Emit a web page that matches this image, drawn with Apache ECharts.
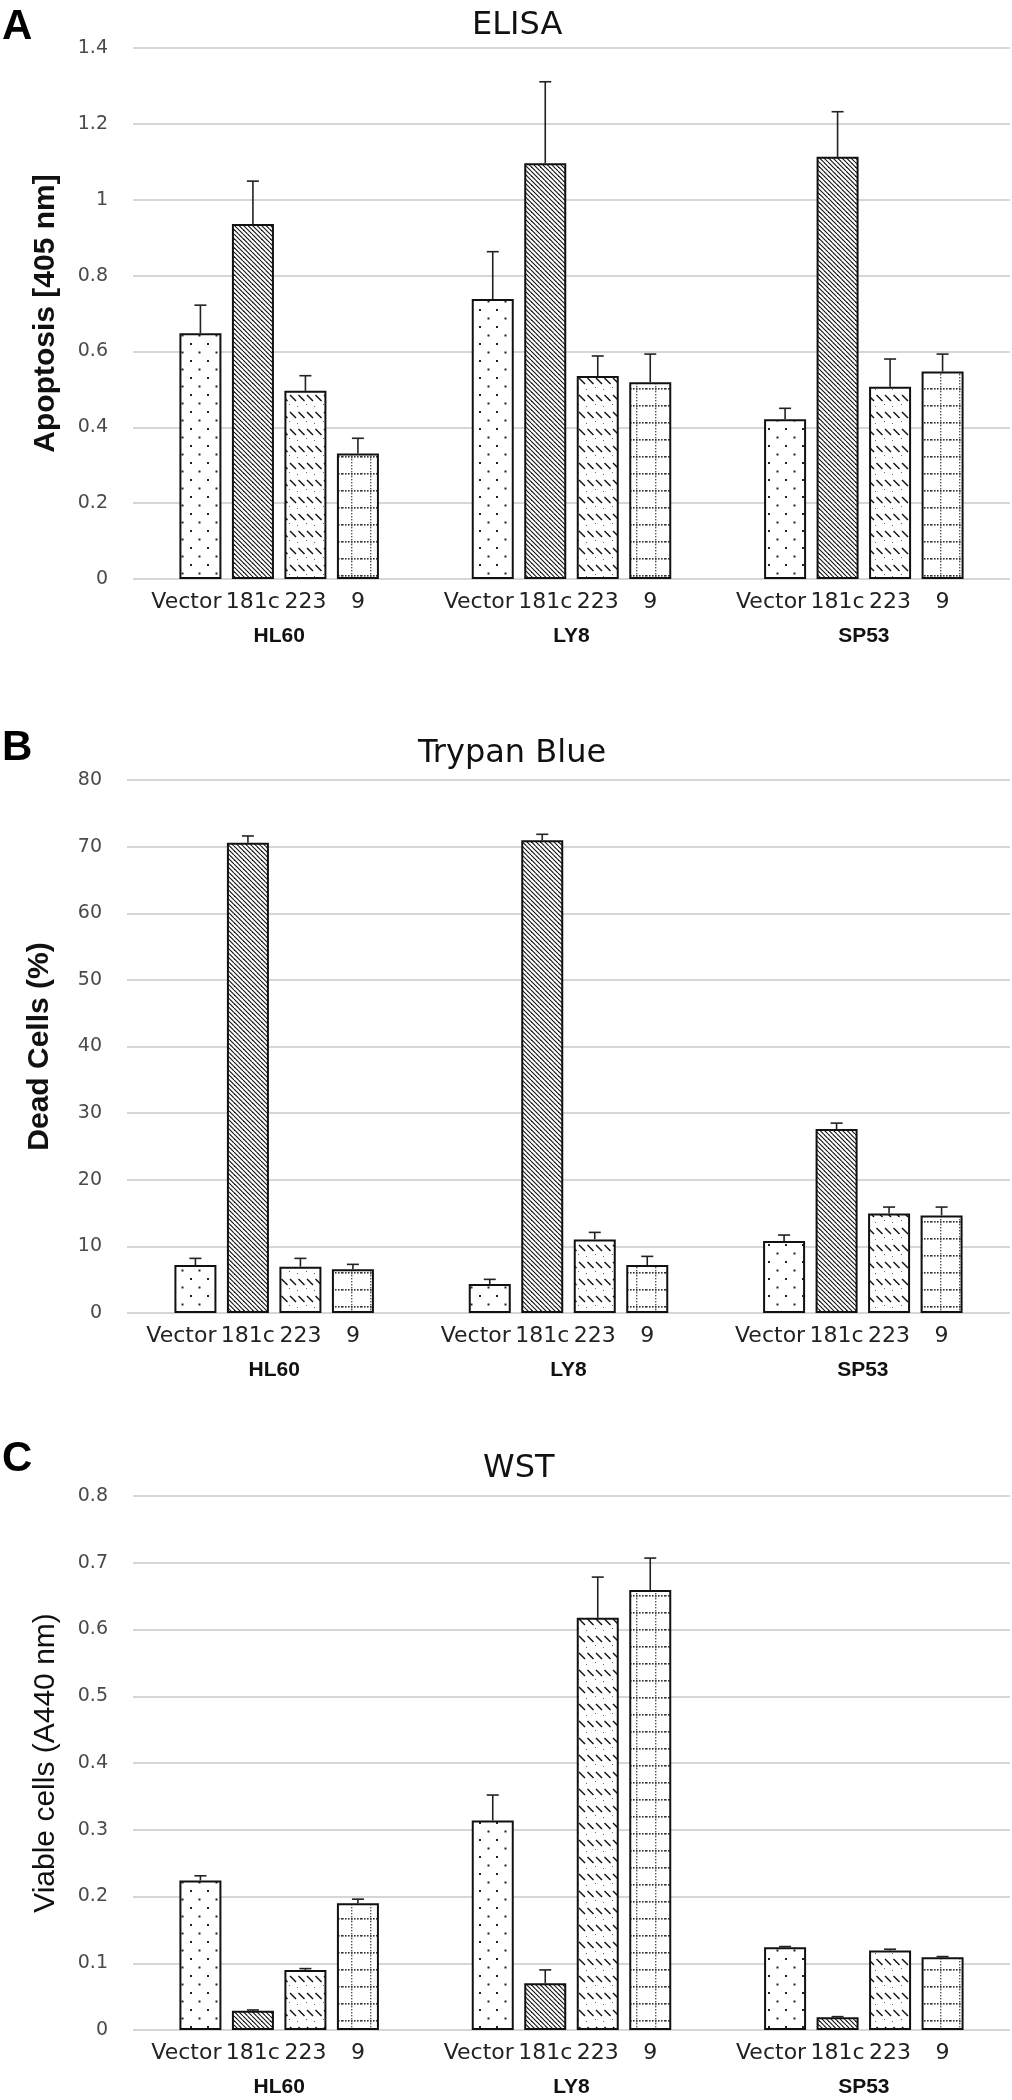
<!DOCTYPE html>
<html><head><meta charset="utf-8">
<script src="https://cdn.jsdelivr.net/npm/echarts/dist/echarts.min.js"></script>
<style>html,body{margin:0;padding:0;background:#fff;}#c{width:1012px;height:2100px;}</style>
</head><body><div id="c"></div>
<script>
// ---------- data ----------
const cellLines = ['HL60', 'LY8', 'SP53'];
const constructs = ['Vector', '181c', '223', '9'];

// Panel A: ELISA, Apoptosis [405 nm]
const elisaVector = [0.648, 0.738, 0.421];
const elisa181c   = [0.936, 1.096, 1.113];
const elisa223    = [0.496, 0.535, 0.507];
const elisa9      = [0.331, 0.519, 0.547];
const elisaErrVector = [0.074, 0.125, 0.029];
const elisaErr181c   = [0.113, 0.215, 0.119];
const elisaErr223    = [0.040, 0.053, 0.073];
const elisaErr9      = [0.040, 0.074, 0.046];
const elisaTicks = [0, 0.2, 0.4, 0.6, 0.8, 1, 1.2, 1.4];

// Panel B: Trypan Blue, Dead Cells (%)
const trypanVector = [7.2, 4.35, 10.8];
const trypan181c   = [70.6, 70.95, 27.6];
const trypan223    = [6.95, 11.05, 14.95];
const trypan9      = [6.55, 7.2, 14.65];
const trypanErrVector = [1.0, 0.7, 0.9];
const trypanErr181c   = [1.0, 0.9, 0.9];
const trypanErr223    = [1.25, 1.05, 0.95];
const trypanErr9      = [0.75, 1.3, 1.25];
const trypanTicks = [0, 10, 20, 30, 40, 50, 60, 70, 80];

// Panel C: WST, Viable cells (A440 nm)
const wstVector = [0.224, 0.314, 0.124];
const wst181c   = [0.029, 0.070, 0.019];
const wst223    = [0.090, 0.6175, 0.119];
const wst9      = [0.190, 0.659, 0.109];
const wstErrVector = [0.007, 0.038, 0.001];
const wstErr181c   = [0.001, 0.020, 0.001];
const wstErr223    = [0.002, 0.061, 0.002];
const wstErr9      = [0.006, 0.048, 0.001];
const wstTicks = [0, 0.1, 0.2, 0.3, 0.4, 0.5, 0.6, 0.7, 0.8];

// ---------- patterns ----------
function mk(w, h, draw) {
  const c = document.createElement('canvas');
  c.width = w; c.height = h;
  const g = c.getContext('2d');
  g.fillStyle = '#fff'; g.fillRect(0, 0, w, h);
  draw(g);
  return { image: c, repeat: 'repeat' };
}
const patDots = mk(17, 17, g => {
  g.fillStyle = '#222';
  g.fillRect(3, 3, 2, 2); g.fillRect(11.5, 11.5, 2, 2);
});
const patDiag = mk(9, 9, g => {
  g.strokeStyle = '#111'; g.lineWidth = 1.1;
  for (let k = -9; k <= 9; k += 4.5) { g.beginPath(); g.moveTo(k, 0); g.lineTo(k + 9, 9); g.stroke(); }
});
const patDash = mk(17, 17, g => {
  g.strokeStyle = '#111'; g.lineWidth = 1.4;
  [[1, 4], [9.5, 4]].forEach(([x, y]) => { g.beginPath(); g.moveTo(x, y); g.lineTo(x + 6, y + 6); g.stroke(); });
  g.fillStyle = '#666'; g.fillRect(0, 13, 1, 1); g.fillRect(8, 15, 1, 1);
});
const patGrid = mk(19, 17, g => {
  g.fillStyle = '#333';
  for (let x = 0; x < 19; x += 3) g.fillRect(x, 14, 1.6, 1.6);
  g.fillStyle = '#555';
  for (let y = 0; y < 17; y += 3) g.fillRect(9, y, 1.4, 1.4);
});
const patterns = [patDots, patDiag, patDash, patGrid];

// ---------- layout ----------
const BAR_W = 42, GAP = 0.25;
const FONT = 'DejaVu Sans';
const panels = [
  { letter: 'A', title: 'ELISA', titleLeft: 472, letterTop: 6, titleTop: 10,
    yName: 'Apoptosis [405 nm]', yNameWeight: 'bold',
    ticks: elisaTicks, vals: [elisaVector, elisa181c, elisa223, elisa9],
    errs: [elisaErrVector, elisaErr181c, elisaErr223, elisaErr9],
    grid: { top: 48, bottom: 2100 - 579, left: 133, right: 2 } },
  { letter: 'B', title: 'Trypan Blue', titleLeft: 418, letterTop: 727, titleTop: 738,
    yName: 'Dead Cells (%)', yNameWeight: 'bold',
    ticks: trypanTicks, vals: [trypanVector, trypan181c, trypan223, trypan9],
    errs: [trypanErrVector, trypanErr181c, trypanErr223, trypanErr9],
    grid: { top: 780, bottom: 2100 - 1313, left: 127, right: 2 } },
  { letter: 'C', title: 'WST', titleLeft: 483, letterTop: 1438, titleTop: 1453,
    yName: 'Viable cells (A440 nm)', yNameWeight: 'normal',
    ticks: wstTicks, vals: [wstVector, wst181c, wst223, wst9],
    errs: [wstErrVector, wstErr181c, wstErr223, wstErr9],
    grid: { top: 1496, bottom: 2100 - 2030, left: 133, right: 2 } }
];

const option = { animation: false, backgroundColor: '#fff', title: [], grid: [], xAxis: [], yAxis: [], series: [] };

panels.forEach((p, gi) => {
  option.title.push({ text: p.letter, left: 2, top: p.letterTop, padding: 0,
    textStyle: { fontFamily: 'Liberation Sans', fontWeight: 'bold', fontSize: 42, color: '#000' } });
  option.title.push({ text: p.title, left: p.titleLeft, top: p.titleTop, padding: 0,
    textStyle: { fontFamily: FONT, fontWeight: 'normal', fontSize: 32, color: '#111' } });
  option.grid.push(Object.assign({ containLabel: false, outerBoundsMode: 'none' }, p.grid));
  option.xAxis.push({ type: 'category', gridIndex: gi, data: cellLines,
    axisLine: { show: false }, axisTick: { show: false }, splitLine: { show: false },
    axisLabel: { margin: 47, fontFamily: 'Liberation Sans', fontWeight: 'bold', fontSize: 21, color: '#111' } });
  const t = p.ticks;
  option.yAxis.push({ type: 'value', gridIndex: gi, min: t[0], max: t[t.length - 1], interval: t[1] - t[0],
    axisLine: { show: false }, axisTick: { show: false },
    splitLine: { show: true, lineStyle: { color: '#d6d6d6', width: 2 } },
    axisLabel: { margin: 25, fontFamily: FONT, fontSize: 19, color: '#4a4a4a',
      formatter: v => String(parseFloat(v.toFixed(2))) },
    name: p.yName, nameLocation: 'middle', nameGap: 72, nameRotate: 90, nameMoveOverlap: false,
    nameTextStyle: { fontFamily: 'Liberation Sans', fontWeight: p.yNameWeight, fontSize: 30, color: '#111' } });

  constructs.forEach((cname, si) => {
    option.series.push({ type: 'bar', name: cname, xAxisIndex: gi, yAxisIndex: gi,
      data: p.vals[si], barWidth: BAR_W, barGap: (GAP * 100) + '%',
      itemStyle: { color: patterns[si], borderColor: '#111', borderWidth: 2 },
      label: { show: true, position: 'bottom', distance: 12, formatter: cname,
        offset: si === 0 ? [-14, 0] : [0, 0],
        fontFamily: FONT, fontSize: 22, color: '#222' },
      z: 2 });
    const vals = p.vals[si], errs = p.errs[si];
    option.series.push({ type: 'custom', xAxisIndex: gi, yAxisIndex: gi, z: 3,
      data: vals.map((v, i) => [i, v, v + errs[i]]),
      encode: { x: 0, y: [1, 2] },
      renderItem: (params, api) => {
        const x = api.value(0);
        const lo = api.coord([x, api.value(1)]);
        const hi = api.coord([x, api.value(2)]);
        const cx = lo[0] + (si - 1.5) * BAR_W * (1 + GAP);
        const st = { stroke: '#222', lineWidth: 1.6 };
        return { type: 'group', children: [
          { type: 'line', shape: { x1: cx, y1: lo[1], x2: cx, y2: hi[1] }, style: st },
          { type: 'line', shape: { x1: cx - 6, y1: hi[1], x2: cx + 6, y2: hi[1] }, style: st }
        ] };
      } });
  });
});

const chart = echarts.init(document.getElementById('c'), null, { renderer: 'canvas' });
chart.setOption(option);
</script>
</body></html>
